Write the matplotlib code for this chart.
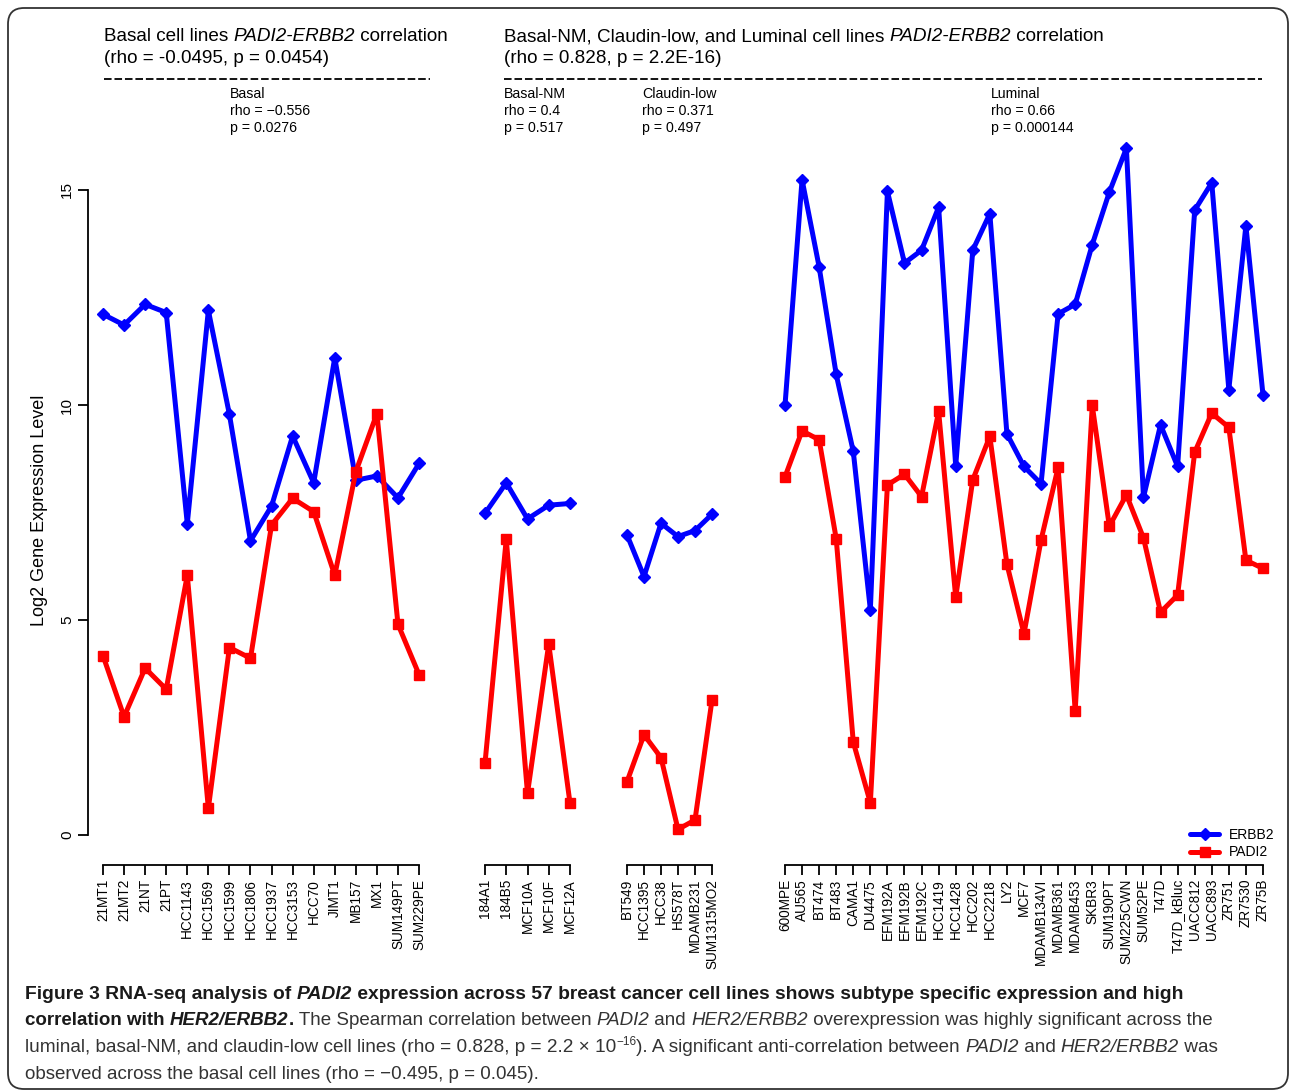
import matplotlib
matplotlib.use("Agg")
import matplotlib.pyplot as plt
from matplotlib.patches import FancyBboxPatch
from matplotlib.lines import Line2D
from matplotlib.transforms import IdentityTransform
from matplotlib import font_manager

W, H = 1290, 1092
plt.rcParams['font.family'] = ['Liberation Sans', 'DejaVu Sans']

# ---------------- data ----------------
basal_lines = ["21MT1", "21MT2", "21NT", "21PT", "HCC1143", "HCC1569", "HCC1599", "HCC1806",
               "HCC1937", "HCC3153", "HCC70", "JIMT1", "MB157", "MX1", "SUM149PT", "SUM229PE"]
basal_erbb2 = [12.11, 11.86, 12.34, 12.15, 7.24, 12.20, 9.78, 6.84, 7.65, 9.28, 8.19, 11.10, 8.25, 8.35, 7.84, 8.64]
basal_padi2 = [4.17, 2.75, 3.88, 3.39, 6.04, 0.62, 4.36, 4.11, 7.21, 7.83, 7.52, 6.04, 8.45, 9.80, 4.90, 3.73]

basalnm_lines = ["184A1", "184B5", "MCF10A", "MCF10F", "MCF12A"]
basalnm_erbb2 = [7.48, 8.19, 7.35, 7.67, 7.71]
basalnm_padi2 = [1.67, 6.88, 0.97, 4.44, 0.74]

claudin_lines = ["BT549", "HCC1395", "HCC38", "HS578T", "MDAMB231", "SUM1315MO2"]
claudin_erbb2 = [6.98, 6.01, 7.25, 6.94, 7.08, 7.46]
claudin_padi2 = [1.24, 2.33, 1.80, 0.13, 0.35, 3.14]

luminal_lines = ["600MPE", "AU565", "BT474", "BT483", "CAMA1", "DU4475", "EFM192A", "EFM192B",
                 "EFM192C", "HCC1419", "HCC1428", "HCC202", "HCC2218", "LY2", "MCF7", "MDAMB134VI",
                 "MDAMB361", "MDAMB453", "SKBR3", "SUM190PT", "SUM225CWN", "SUM52PE", "T47D",
                 "T47D_kBluc", "UACC812", "UACC893", "ZR751", "ZR7530", "ZR75B"]
luminal_erbb2 = [9.99, 15.24, 13.21, 10.71, 8.92, 5.24, 14.97, 13.30, 13.60, 14.60, 8.58, 13.60, 14.45,
                 9.33, 8.57, 8.17, 12.12, 12.34, 13.73, 14.95, 15.97, 7.85, 9.54, 8.57, 14.53, 15.17,
                 10.36, 14.17, 10.24]
luminal_padi2 = [8.33, 9.40, 9.19, 6.89, 2.16, 0.75, 8.14, 8.39, 7.87, 9.85, 5.53, 8.26, 9.27,
                 6.30, 4.68, 6.86, 8.55, 2.89, 9.99, 7.18, 7.91, 6.91, 5.18, 5.58, 8.90, 9.81,
                 9.48, 6.39, 6.20]

y_ticks = [0, 5, 10, 15]
series_names = ["ERBB2", "PADI2"]
colors = ["#0000ff", "#ff0000"]
markers = ["D", "s"]

fig = plt.figure(figsize=(W / 100, H / 100), dpi=100)

# pixel layout helpers
Y0_PX, PX_PER_UNIT = 835.0, 43.0
AX_BOT, AX_TOP = 865.0, 140.0


def make_axes(L, R, x0, dx, names, erbb2, padi2, left_axis=False):
    ax = fig.add_axes([L / W, 1 - AX_BOT / H, (R - L) / W, (AX_BOT - AX_TOP) / H])
    ax.set_xlim((L - x0) / dx, (R - x0) / dx)
    ax.set_ylim((Y0_PX - AX_BOT) / PX_PER_UNIT, (Y0_PX - AX_TOP) / PX_PER_UNIT)
    idx = list(range(len(names)))
    for vals, c, m, nm in zip([erbb2, padi2], colors, markers, series_names):
        ax.plot(idx, vals, color=c, lw=3.6, marker=m, ms=6.5 if m == "D" else 7,
                mec=c, mfc=c, clip_on=False, label=nm, solid_joinstyle='round',
                solid_capstyle='round')
    for s in ['top', 'right']:
        ax.spines[s].set_visible(False)
    ax.spines['bottom'].set_bounds(0, len(names) - 1)
    ax.spines['bottom'].set_linewidth(1.3)
    ax.set_xticks(idx)
    ax.set_xticklabels(names, rotation=90, fontsize=9.8, va='top')
    ax.tick_params(axis='x', length=7, width=1.3, pad=3)
    if left_axis:
        ax.spines['left'].set_bounds(0, 15)
        ax.spines['left'].set_linewidth(1.3)
        ax.set_yticks(y_ticks)
        ax.set_yticklabels([str(v) for v in y_ticks], rotation=90, fontsize=11, va='center')
        ax.tick_params(axis='y', length=7, width=1.3, pad=3)
    else:
        ax.spines['left'].set_visible(False)
        ax.set_yticks([])
    ax.patch.set_visible(False)
    return ax


ax1 = make_axes(88, 430, 103, 21.07, basal_lines, basal_erbb2, basal_padi2, left_axis=True)
ax2 = make_axes(475, 580, 485, 21.25, basalnm_lines, basalnm_erbb2, basalnm_padi2)
ax3 = make_axes(617, 722, 627, 17.0, claudin_lines, claudin_erbb2, claudin_padi2)
ax4 = make_axes(775, 1275, 785, 17.07, luminal_lines, luminal_erbb2, luminal_padi2)

fig.text(40 / W, 1 - 510 / H, "Log2 Gene Expression Level", rotation=90, fontsize=13,
         ha='center', va='center')

h, l = ax4.get_legend_handles_labels()
fig.legend(h, l, loc='upper left', bbox_to_anchor=(1183 / W, 1 - 821 / H), frameon=False,
           fontsize=10, handlelength=2.1, handletextpad=0.7, labelspacing=0.25, borderpad=0)

renderer = fig.canvas.get_renderer()


def runs(x, y, parts, size, family, default_color='black'):
    """Place consecutive text runs on a baseline at pixel (x, y)."""
    for p in parts:
        txt = p[0]
        kw = dict(p[1]) if len(p) > 1 else {}
        dy = kw.pop('dy', 0)
        fs = kw.pop('size', size)
        col = kw.pop('color', default_color)
        t = fig.text(x / W, 1 - (y - dy) / H, txt, fontsize=fs, family=family, va='baseline',
                     ha='left', color=col, **kw)
        bb = t.get_window_extent(renderer)
        x += bb.width
    return x


def width_of(parts, size, family):
    tot = 0
    for p in parts:
        kw = dict(p[1]) if len(p) > 1 else {}
        kw.pop('dy', None)
        kw.pop('color', None)
        fs = kw.pop('size', size)
        t = fig.text(0, 0, p[0], fontsize=fs, family=family, **kw)
        tot += t.get_window_extent(renderer).width
        t.remove()
    return tot


IT = {'style': 'italic'}
hf = ['Liberation Sans', 'DejaVu Sans']
hs = 13.6
runs(104, 41, [("Basal cell lines ",), ("PADI2-ERBB2", IT), (" correlation",)], hs, hf)
runs(104, 63, [("(rho = -0.0495, p = 0.0454)",)], hs, hf)
runs(504, 41, [("Basal-NM, Claudin-low, and Luminal cell lines ",), ("PADI2-ERBB2", IT),
               (" correlation",)], hs, hf)
runs(504, 63, [("(rho = 0.828, p = 2.2E-16)",)], hs, hf)

for xa, xb in [(104, 430), (504, 1262)]:
    fig.add_artist(Line2D([xa / W, xb / W], [1 - 79 / H, 1 - 79 / H], color='black', lw=1.3,
                          linestyle=(0, (4.2, 1.6)), transform=fig.transFigure))

sub = [(230, ["Basal", "rho = \u22120.556", "p = 0.0276"]),
       (504, ["Basal-NM", "rho = 0.4", "p = 0.517"]),
       (642, ["Claudin-low", "rho = 0.371", "p = 0.497"]),
       (991, ["Luminal", "rho = 0.66", "p = 0.000144"])]
for xs, lines in sub:
    for k, s in enumerate(lines):
        fig.text(xs / W, 1 - (98 + 17 * k) / H, s, fontsize=10.2, va='baseline', ha='left')

# caption
avail = {f.name for f in font_manager.fontManager.ttflist}
cf = ['Liberation Sans Narrow', 'Liberation Sans'] if 'Liberation Sans Narrow' in avail else ['Liberation Sans']
BOLD = {'weight': 'bold', 'color': '#1a1a1a'}
BI = {'weight': 'bold', 'style': 'italic', 'color': '#1a1a1a'}
ITC = {'style': 'italic'}
ccol = '#333333'
cap_lines = [
    (999, 1157, [("Figure 3 RNA-seq analysis of ", BOLD), ("PADI2", BI),
                 (" expression across 57 breast cancer cell lines shows subtype specific expression and high", BOLD)]),
    (1025, 1188, [("correlation with ", BOLD), ("HER2/ERBB2", BI), (".", BOLD),
                  (" The Spearman correlation between ",), ("PADI2", ITC), (" and ",),
                  ("HER2/ERBB2", ITC), (" overexpression was highly significant across the",)]),
    (1052, 1200, [("luminal, basal-NM, and claudin-low cell lines (rho = 0.828, p = 2.2 \u00d7 10",),
                  ("\u221216", {'size': 8.5, 'dy': 7}),
                  ("). A significant anti-correlation between ",), ("PADI2", ITC), (" and ",),
                  ("HER2/ERBB2", ITC), (" was",)]),
]
sizes = []
for yb, target, parts in cap_lines:
    s = 13 * target / width_of(parts, 13, cf)
    sizes.append(s)
    runs(25, yb, parts, s, cf, ccol)
runs(25, 1079, [("observed across the basal cell lines (rho = \u22120.495, p = 0.045).",)],
     min(sizes), cf, ccol)

# rounded frame
frame = FancyBboxPatch((8, H - 1089), 1280, 1081, boxstyle="round,pad=0,rounding_size=16",
                       fill=False, ec='#333333', lw=1.3, transform=IdentityTransform())
fig.add_artist(frame)

fig.savefig("out.png", dpi=100)
